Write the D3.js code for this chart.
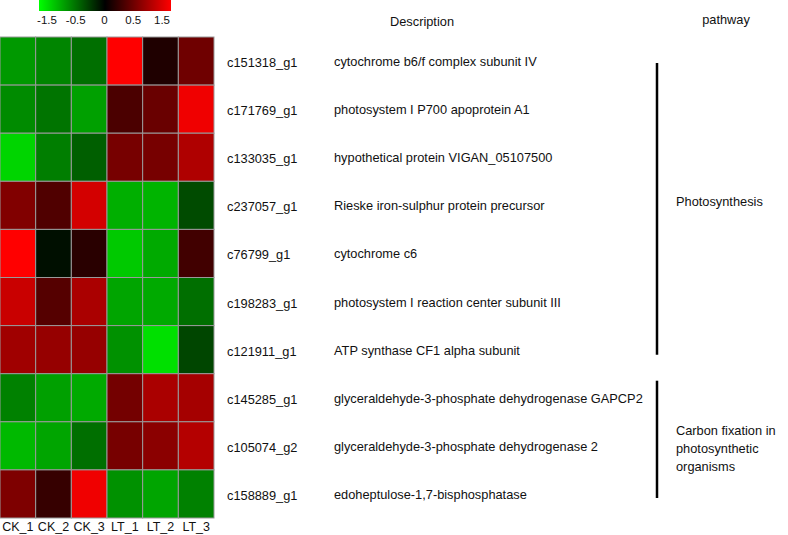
<!DOCTYPE html>
<html><head><meta charset="utf-8">
<script src="https://cdn.jsdelivr.net/npm/d3@7"></script>
<style>body{margin:0;background:#fff}svg{display:block;font-family:"Liberation Sans",Arial,Helvetica,sans-serif}</style>
</head><body>
<script>
const samples = ["CK_1","CK_2","CK_3","LT_1","LT_2","LT_3"];
const genes = ["c151318_g1","c171769_g1","c133035_g1","c237057_g1","c76799_g1","c198283_g1","c121911_g1","c145285_g1","c105074_g2","c158889_g1"];
const descriptions = ["cytochrome b6/f complex subunit IV","photosystem I P700 apoprotein A1","hypothetical protein VIGAN_05107500","Rieske iron-sulphur protein precursor","cytochrome c6","photosystem I reaction center subunit III","ATP synthase CF1 alpha subunit","glyceraldehyde-3-phosphate dehydrogenase GAPCP2","glyceraldehyde-3-phosphate dehydrogenase 2","edoheptulose-1,7-bisphosphatase"];
const values = [
  [-0.90,-0.78,-0.65, 1.60, 0.18, 0.65],
  [-0.82,-0.68,-0.94, 0.44, 0.62, 1.41],
  [-1.25,-0.74,-0.56, 0.70, 0.70, 1.03],
  [ 0.76, 0.47, 1.24,-1.03,-1.06,-0.44],
  [ 1.60,-0.09, 0.24,-1.18,-1.00, 0.38],
  [ 1.18, 0.50, 1.00,-0.97,-1.00,-0.65],
  [ 0.94, 0.88, 0.88,-0.85,-1.32,-0.41],
  [-0.76,-0.94,-1.00, 0.68, 1.00, 0.97],
  [-1.09,-0.97,-0.65, 0.70, 0.82, 1.06],
  [ 0.74, 0.32, 1.41,-0.85,-0.97,-0.76]
];
const legendTicks = ["-1.5","-0.5","0","0.5","1.5"];
const pathwayNames = [["Photosynthesis"], ["Carbon fixation in","photosynthetic","organisms"]];
const pathwayRows = [[0,6],[7,9]];

const W=788,H=535;
const svg=d3.select("body").append("svg").attr("width",W).attr("height",H);

const x=d3.scaleBand().domain(samples).range([0,214]);
const y=d3.scaleBand().domain(genes).range([37,518]);
const color=d3.scaleLinear().domain([-1.5,0,1.5]).range(["#00ff00","#000000","#ff0000"]).clamp(true);

// cells
const rows=svg.append("g");
genes.forEach((g,i)=>{
  rows.selectAll(null).data(values[i]).enter().append("rect")
    .attr("x",(d,j)=>x(samples[j]))
    .attr("y",y(g))
    .attr("width",x.bandwidth())
    .attr("height",y.bandwidth())
    .attr("fill",d=>color(d))
    .attr("stroke","#9a9a9a").attr("stroke-width",1);
});

// column labels
svg.append("g").selectAll("text").data(samples).enter().append("text")
  .attr("x",d=>x(d)+x.bandwidth()/2).attr("y",531)
  .attr("text-anchor","middle").attr("font-size",12.5).attr("fill","#111").text(d=>d);

// gene labels and descriptions
svg.append("g").selectAll("text").data(genes).enter().append("text")
  .attr("x",227).attr("y",d=>y(d)+y.bandwidth()/2+6)
  .attr("font-size",12.8).attr("fill","#111").text(d=>d);
svg.append("g").selectAll("text").data(descriptions).enter().append("text")
  .attr("x",334).attr("y",(d,i)=>y(genes[i])+y.bandwidth()/2+5)
  .attr("font-size",12.8).attr("fill","#111").text(d=>d);

// headers
svg.append("text").attr("x",422).attr("y",26).attr("text-anchor","middle").attr("font-size",12.8).attr("fill","#111").text("Description");
svg.append("text").attr("x",726).attr("y",24).attr("text-anchor","middle").attr("font-size",12.8).attr("fill","#111").text("pathway");

// pathway brackets
const pg=svg.append("g");
// Photosynthesis
pg.append("line").attr("x1",657).attr("x2",657)
  .attr("y1",y(genes[pathwayRows[0][0]])+26).attr("y2",y(genes[pathwayRows[0][1]])+y.bandwidth()-19)
  .attr("stroke","#000").attr("stroke-width",2.5);
pg.append("text").attr("x",676).attr("y",y(genes[3])+25).attr("font-size",12.8).attr("fill","#111").text(pathwayNames[0][0]);
// Carbon fixation
pg.append("line").attr("x1",657).attr("x2",657)
  .attr("y1",y(genes[pathwayRows[1][0]])+7).attr("y2",y(genes[pathwayRows[1][1]])+y.bandwidth()-20)
  .attr("stroke","#000").attr("stroke-width",2.5);
pathwayNames[1].forEach((t,m)=>{
  pg.append("text").attr("x",676).attr("y",y(genes[8])+13+m*18).attr("font-size",12.8).attr("fill","#111").text(t);
});

// legend
const defs=svg.append("defs");
const grad=defs.append("linearGradient").attr("id","lg");
[[0,"#00ff00"],[0.5,"#000000"],[1,"#ff0000"]].forEach(s=>grad.append("stop").attr("offset",s[0]).attr("stop-color",s[1]));
svg.append("rect").attr("x",39).attr("y",0).attr("width",132).attr("height",11).attr("fill","url(#lg)");
const lx=d3.scalePoint().domain(legendTicks).range([47,162]);
svg.append("g").selectAll("text").data(legendTicks).enter().append("text")
  .attr("x",d=>lx(d)).attr("y",24).attr("text-anchor","middle").attr("font-size",11.5).attr("fill","#111").text(d=>d);
</script>
</body></html>
